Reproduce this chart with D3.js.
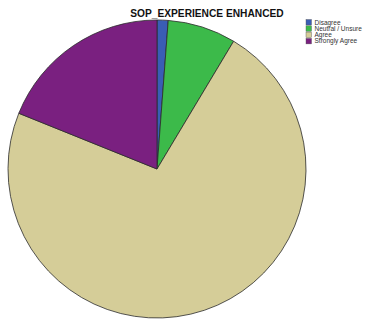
<!DOCTYPE html>
<html>
<head>
<meta charset="utf-8">
<script src="https://cdn.jsdelivr.net/npm/d3@7"></script>
<style>
  html, body { margin: 0; padding: 0; background: #ffffff; }
  svg { display: block; }
</style>
</head>
<body>
<svg id="chart" width="368" height="320"></svg>
<script>
// Response categories and their shares (percent of respondents)
const categories = ["Disagree", "Neutral / Unsure", "Agree", "Strongly Agree"];
const values = [1.2, 7.4, 72.5, 18.9];
const colors = ["#3a5db5", "#3cba4a", "#d5cd98", "#7a2080"];
const title = "SOP_EXPERIENCE ENHANCED";

const svg = d3.select("#chart");
const cx = 157, cy = 169, radius = 149;

const data = categories.map((c, i) => ({ category: c, value: values[i] }));

const color = d3.scaleOrdinal().domain(categories).range(colors);

const pie = d3.pie()
  .value(d => d.value)
  .sort(null);

const arc = d3.arc()
  .innerRadius(0)
  .outerRadius(radius);

// Title
svg.append("text")
  .attr("x", 207)
  .attr("y", 16.5)
  .attr("text-anchor", "middle")
  .attr("font-family", "Liberation Sans, Arial, sans-serif")
  .attr("font-weight", "bold")
  .attr("font-size", 10.2)
  .attr("fill", "#111")
  .text(title);

// Pie slices
svg.append("g")
  .attr("transform", `translate(${cx},${cy})`)
  .selectAll("path")
  .data(pie(data))
  .join("path")
  .attr("d", arc)
  .attr("fill", d => color(d.data.category))
  .attr("stroke", "#2b2b2b")
  .attr("stroke-width", 0.8)
  .attr("stroke-linejoin", "round");

// Legend
const legend = svg.append("g")
  .attr("transform", "translate(306,19.5)");

const row = legend.selectAll("g")
  .data(categories)
  .join("g")
  .attr("transform", (d, i) => `translate(0,${i * 6.3})`);

row.append("rect")
  .attr("width", 5.5)
  .attr("height", 5.5)
  .attr("fill", d => color(d))
  .attr("stroke", "#555")
  .attr("stroke-width", 0.4);

row.append("text")
  .attr("x", 8.5)
  .attr("y", 5)
  .attr("font-family", "Liberation Sans, Arial, sans-serif")
  .attr("font-size", 6.5)
  .attr("fill", "#333")
  .text(d => d);
</script>
</body>
</html>
